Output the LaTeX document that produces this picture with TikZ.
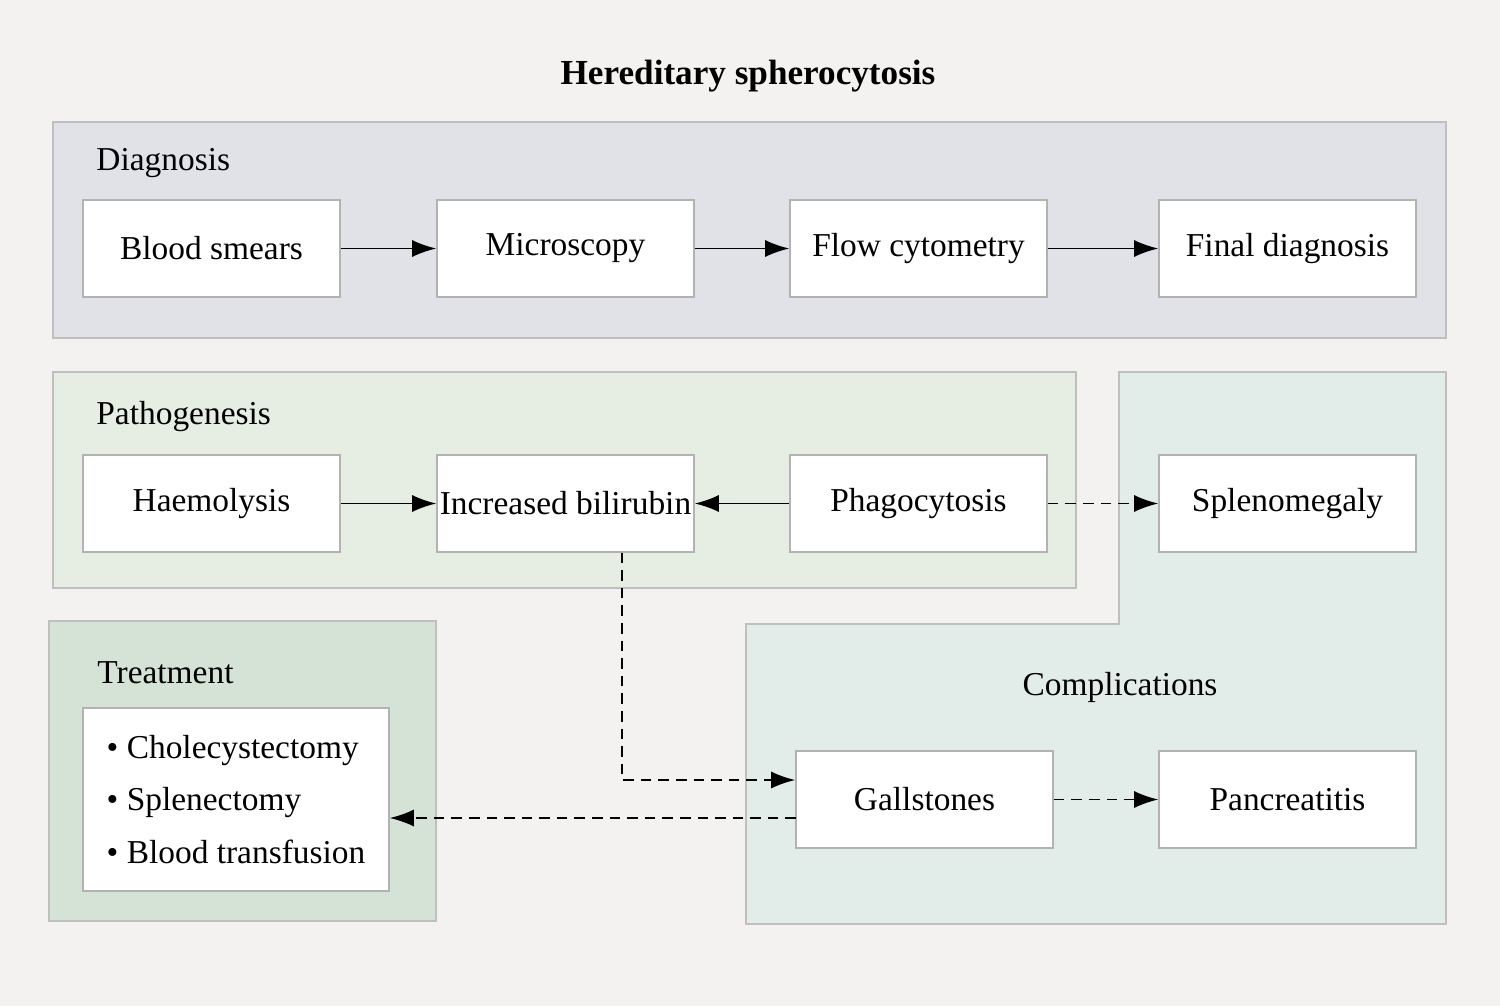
\documentclass[tikz,border=0pt]{standalone}
\usepackage{fontspec}
\setmainfont{Liberation Serif}
\usetikzlibrary{arrows.meta}
\begin{document}
\begin{tikzpicture}[x=0.01cm,y=-0.01cm,
  box/.style={draw=black!30,fill=white,minimum width=2.57cm,minimum height=0.97cm,font=\fontsize{9.5pt}{11pt}\selectfont,inner sep=0},
  panel/.style={draw=black!25,line width=0.6pt},
  lab/.style={font=\fontsize{9.5pt}{11pt}\selectfont},
  arr/.style={-{Latex[length=0.24cm,width=0.17cm]},line width=0.5pt},
  darr/.style={arr,dash pattern=on 3pt off 2pt}]
\fill[fill={rgb,255:red,243;green,242;blue,240}] (0,0) rectangle (1500,1006);
\useasboundingbox (0,0) rectangle (1500,1006);
\filldraw[panel,fill={rgb,255:red,224;green,226;blue,231}] (53,122) rectangle (1446,338);
\filldraw[panel,fill={rgb,255:red,230;green,238;blue,227}] (53,372) rectangle (1076,588);
\filldraw[panel,fill={rgb,255:red,226;green,237;blue,234}] (1119,372) -- (1446,372) -- (1446,924) -- (746,924) -- (746,624) -- (1119,624) -- cycle;
\filldraw[panel,fill={rgb,255:red,213;green,227;blue,214}] (49,621) rectangle (436,921);
\node[font=\fontsize{10pt}{12pt}\selectfont\bfseries] (title) at (748,76) {Hereditary spherocytosis};
\node[lab,anchor=west] (ld) at (84,163) {Diagnosis};
\node[lab,anchor=west] (lp) at (84,417) {Pathogenesis};
\node[lab,anchor=west] (lt) at (85,673) {Treatment};
\node[lab] (lc) at (1120,687) {Complications};
\node[box] (bs) at (211.5,248.5) {Blood smears};
\node[box] (mi) at (565.5,248.5) {Microscopy};
\node[box] (fc) at (918.5,248.5) {Flow cytometry};
\node[box] (fd) at (1287.5,248.5) {Final diagnosis};
\node[box] (ha) at (211.5,503.5) {Haemolysis};
\node[box] (ib) at (565.5,503.5) {Increased bilirubin};
\node[box] (ph) at (918.5,503.5) {Phagocytosis};
\node[box] (sp) at (1287.5,503.5) {Splenomegaly};
\node[box] (ga) at (924.5,799.5) {Gallstones};
\node[box] (pa) at (1287.5,799.5) {Pancreatitis};
\node[box,minimum width=3.06cm,minimum height=1.83cm,align=left] (tr) at (236,799.5)
  {\textbullet\ Cholecystectomy\\[4pt]\textbullet\ Splenectomy\\[4pt]\textbullet\ Blood transfusion};
\draw[arr] (bs) -- (mi);
\draw[arr] (mi) -- (fc);
\draw[arr] (fc) -- (fd);
\draw[arr] (ha) -- (ib);
\draw[arr] (ph) -- (ib);
\draw[darr] (ph) -- (sp);
\draw[darr] (ga) -- (pa);
\coordinate (c1) at (622,780);
\draw[darr] (ib.south -| c1) -- (c1) -- (ga.west |- c1);
\coordinate (c2) at (796,818);
\draw[darr] (c2) -- (tr.east |- c2);
\end{tikzpicture}
\end{document}
